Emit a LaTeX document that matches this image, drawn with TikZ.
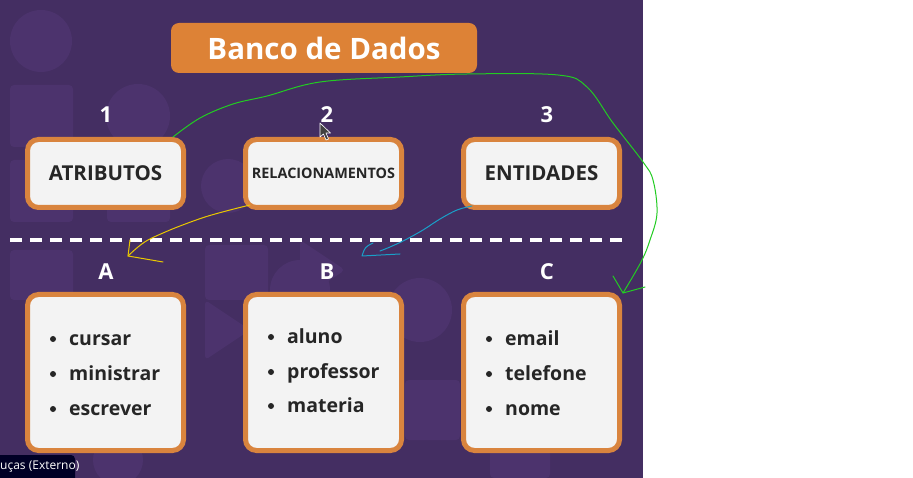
\documentclass[tikz,border=0pt]{standalone}
\usepackage{fontspec}
\setmainfont{Open Sans}
\definecolor{bgpurple}{HTML}{442E62}
\definecolor{bgshape}{HTML}{4C336D}
\definecolor{orangeT}{HTML}{DD8236}
\definecolor{boxor}{HTML}{D9843E}
\definecolor{boxfill}{HTML}{F3F3F3}
\definecolor{darktext}{HTML}{262626}
\definecolor{penGreen}{HTML}{22CC22}
\definecolor{penYellow}{HTML}{EAC800}
\definecolor{penBlue}{HTML}{1A9FC8}
\begin{document}
\begin{tikzpicture}[x=1pt,y=-1pt,
  box/.style={draw=boxor, line width=5pt, fill=boxfill, rounded corners=11pt, minimum width=156pt, inner sep=0pt},
  topbox/.style={box, minimum height=68pt, text=darktext, font=\bfseries\fontsize{20.5}{24}\selectfont},
  botbox/.style={box, minimum height=156pt},
  numlabel/.style={text=white, font=\bfseries\fontsize{22}{26}\selectfont},
  item/.style={anchor=base west, text=darktext, inner sep=0pt, font=\bfseries\fontsize{19.5}{24}\selectfont},
  bullet/.style={circle, fill=darktext, inner sep=0pt, minimum size=6pt},
  pen/.style={line width=1pt, line cap=round, line join=round},
  bgshp/.style={fill=bgshape}
]
\useasboundingbox (0,0) rectangle (913,478);
\fill[white] (0,0) rectangle (913,478);
\fill[bgpurple] (0,0) rectangle (643,478);
% faint background shapes
\fill[bgshp] (41,41) circle (31);
\fill[bgshp, rounded corners=4pt] (10,85) rectangle (73,147);
\fill[bgshp] (138,116) circle (32);
\fill[bgshp, rounded corners=4pt] (107,160) rectangle (170,222);
\fill[bgshp] (228,186) circle (27);
\fill[bgshp, rounded corners=4pt] (10,160) rectangle (73,222);
\fill[bgshp, rounded corners=4pt] (10,250) rectangle (73,300);
\fill[bgshp, rounded corners=4pt] (205,245) rectangle (268,300);
\fill[bgshp] (300,290) circle (30);
\fill[bgshp, rounded corners=4pt] (205,300) -- (250,330) -- (205,360) -- cycle;
\fill[bgshp] (420,310) circle (32);
\fill[bgshp, rounded corners=4pt] (405,380) rectangle (460,440);
\fill[bgshp] (118,460) circle (25);
\fill[bgshp, rounded corners=4pt] (490,450) rectangle (550,478);
\fill[bgshp, rounded corners=4pt] (300,240) -- (345,270) -- (300,300) -- cycle;

% title
\node[fill=orangeT, rounded corners=8pt, minimum width=306pt, minimum height=50pt, inner sep=0pt,
      text=white, font=\bfseries\fontsize{29.5}{32}\selectfont] (title) at (324,48) {Banco de Dados};

% numbers
\node[numlabel] (n1) at (106,115) {1};
\node[numlabel] (n2) at (327,115) {2};
\node[numlabel] (n3) at (547,115) {3};

% top boxes
\node[topbox] (t1) at (105.5,173.5) {ATRIBUTOS};
\node[topbox, font=\bfseries\fontsize{14.4}{17}\selectfont] (t2) at (323.5,173.5) {RELACIONAMENTOS};
\node[topbox] (t3) at (541.5,173.5) {ENTIDADES};

% dashed separator
\coordinate (d1) at (10,240);
\coordinate (d2) at (626,240);
\draw[white, line width=4pt, dash pattern=on 12pt off 8pt] (d1) -- (d2);

% letters
\node[numlabel] (la) at (106,272) {A};
\node[numlabel] (lb) at (327,272) {B};
\node[numlabel] (lc) at (547,272) {C};

% bottom boxes
\node[botbox] (b1) at (105.5,372.5) {};
\node[botbox] (b2) at (323.5,372.5) {};
\node[botbox] (b3) at (541.5,372.5) {};

% list A
\node[bullet] (a1b) at (53,339) {};
\node[item] (a1) at (69,345) {cursar};
\node[bullet] (a2b) at (53,374) {};
\node[item] (a2) at (69,380) {ministrar};
\node[bullet] (a3b) at (53,409) {};
\node[item] (a3) at (69,415) {escrever};
% list B
\node[bullet] (b1b) at (271,337) {};
\node[item] (bi1) at (287,343) {aluno};
\node[bullet] (b2b) at (271,372) {};
\node[item] (bi2) at (287,378) {professor};
\node[bullet] (b3b) at (271,406) {};
\node[item] (bi3) at (287,412) {materia};
% list C
\node[bullet] (c1b) at (489,339) {};
\node[item] (c1) at (505,345) {email};
\node[bullet] (c2b) at (489,374) {};
\node[item] (c2) at (505,380) {telefone};
\node[bullet] (c3b) at (489,409) {};
\node[item] (c3) at (505,415) {nome};

% hand-drawn annotations
% green
\coordinate (gtip) at (623,293);
\draw[pen, penGreen] plot[smooth, tension=0.6] coordinates {(173,137) (200,118) (233,104) (267,96) (320,82) (400,77) (467,74) (558,75) (587,87) (613,123) (643,162) (653,180) (657,213) (650,240) (641,262) (623,293)};
\draw[pen, penGreen] (613,276) -- (gtip) -- (645,287);
% yellow
\coordinate (ytip) at (128,256);
\draw[pen, penYellow] plot[smooth, tension=0.6] coordinates {(250,205) (230,210) (205,217) (180,226) (163,233) (148,240) (138,247) (128,256)};
\draw[pen, penYellow] (130,240) -- (ytip) -- (163,262);
% blue
\coordinate (btip) at (362,256);
\draw[pen, penBlue] plot[smooth, tension=0.6] coordinates {(472,206) (457,210) (440,219) (423,230) (405,240) (390,247) (380,251)};
\draw[pen, penBlue] (373,243) .. controls (365,247) .. (btip) -- (400,254);

% mouse cursor
\filldraw[fill=black!75, draw=white, line width=0.6pt, line join=round]
  (320,123) -- (320,137) -- (323.5,134) -- (326,140) -- (328.5,139) -- (326,133) -- (330.5,133) -- cycle;

% overlay label
\fill[black!85!blue, rounded corners=4pt] (-6,455) rectangle (75,484);
\node[anchor=west, text=white, inner sep=0pt, font=\fontsize{12}{14}\selectfont] (ov) at (0,467) {uças (Externo)};
\end{tikzpicture}
\end{document}
